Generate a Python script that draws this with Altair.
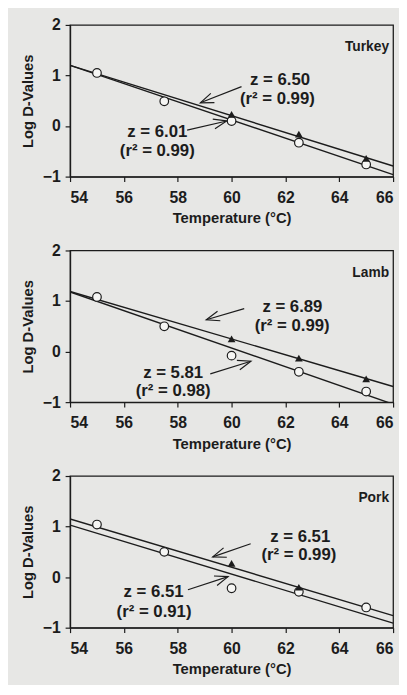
import math
import altair as alt
import pandas as pd

# ---------------- data ----------------
circle_temps = [55, 57.5, 60, 62.5, 65]
line_temps = [54, 66]
x_ticks = [54, 56, 58, 60, 62, 64, 66]
y_ticks = [-1, 0, 1, 2]

turkey_circles = [1.05, 0.49, 0.10, -0.33, -0.76]
turkey_tri_temps = [60, 62.5, 65]
turkey_tris = [0.23, -0.16, -0.64]
turkey_upper = [1.20, -0.79]
turkey_lower = [1.20, -0.96]
turkey_notes = ["z = 6.50", "(r² = 0.99)", "z = 6.01", "(r² = 0.99)"]
turkey_notes_x = [61.8, 61.7, 57.24, 57.24]
turkey_notes_y = [0.91, 0.54, -0.12, -0.50]
turkey_arrow_x0 = [60.37, 58.35]
turkey_arrow_y0 = [0.78, -0.08]
turkey_arrow_x1 = [58.84, 59.82]
turkey_arrow_y1 = [0.46, 0.10]

lamb_circles = [1.08, 0.50, -0.08, -0.40, -0.79]
lamb_tri_temps = [60, 62.5, 65]
lamb_tris = [0.25, -0.13, -0.54]
lamb_upper = [1.19, -0.69]
lamb_lower = [1.18, -1.04]
lamb_notes = ["z = 6.89", "(r² = 0.99)", "z = 5.81", "(r² = 0.98)"]
lamb_notes_x = [62.26, 62.25, 57.83, 57.83]
lamb_notes_y = [0.88, 0.50, -0.42, -0.79]
lamb_arrow_x0 = [60.47, 59.21]
lamb_arrow_y0 = [0.85, -0.44]
lamb_arrow_x1 = [59.06, 60.72]
lamb_arrow_y1 = [0.63, -0.19]

pork_circles = [1.04, 0.50, -0.22, -0.29, -0.60]
pork_tri_temps = [60, 62.5]
pork_tris = [0.27, -0.20]
pork_upper = [1.15, -0.76]
pork_lower = [1.03, -0.91]
pork_notes = ["z = 6.51", "(r² = 0.99)", "z = 6.51", "(r² = 0.91)"]
pork_notes_x = [62.55, 62.5, 57.1, 57.12]
pork_notes_y = [0.80, 0.44, -0.30, -0.69]
pork_arrow_x0 = [60.71, 58.38]
pork_arrow_y0 = [0.66, -0.25]
pork_arrow_x1 = [59.30, 59.87]
pork_arrow_y1 = [0.40, 0.01]

# ---------------- style ----------------
W, H = 328, 154
BG = "#e7e7e5"
INK = "#1c1c1c"
FONT = "Liberation Sans"
ARROW_HEAD = "M -1.6 -0.6 L 0 0 L -1.6 0.6"

XS = alt.Scale(domain=[54, 66], nice=False, zero=False)
YS = alt.Scale(domain=[-1, 2], nice=False, zero=False)


def panel(name, circles, tri_temps, tris, upper, lower, notes, nx, ny,
          ax0, ay0, ax1, ay1):
    xenc = dict(scale=XS, axis=alt.Axis(values=x_ticks, format="d",
                                        title="Temperature (°C)"))
    yenc = dict(scale=YS, axis=alt.Axis(values=y_ticks, format="d",
                                        title="Log D-Values"))

    line_df = pd.DataFrame({
        "t": line_temps * 2,
        "v": upper + lower,
        "s": ["upper"] * 2 + ["lower"] * 2,
    })
    lines = alt.Chart(line_df).mark_line(color=INK, strokeWidth=1.4, clip=True).encode(
        x=alt.X("t:Q", **xenc), y=alt.Y("v:Q", **yenc), detail="s:N")

    ang = []
    for a, b, c, d in zip(ax0, ay0, ax1, ay1):
        dx = (c - a) * W / 12.0
        dy = -(d - b) * H / 3.0
        ang.append(math.degrees(math.atan2(dy, dx)) % 360)
    arr_df = pd.DataFrame({"x0": ax0, "y0": ay0, "x1": ax1, "y1": ay1, "ang": ang})
    shafts = alt.Chart(arr_df).mark_rule(color=INK, strokeWidth=1.2).encode(
        x=alt.X("x0:Q", scale=XS), y=alt.Y("y0:Q", scale=YS), x2="x1:Q", y2="y1:Q")
    heads = alt.Chart(arr_df).mark_point(shape=ARROW_HEAD, filled=False, stroke=INK,
                                         strokeWidth=1.2, size=280, opacity=1).encode(
        x=alt.X("x1:Q", scale=XS), y=alt.Y("y1:Q", scale=YS),
        angle=alt.Angle("ang:Q", scale=None))

    c_df = pd.DataFrame({"t": circle_temps, "v": circles})
    circ = alt.Chart(c_df).mark_point(shape="circle", filled=True, fill="#f6f6f4",
                                      stroke=INK, strokeWidth=1.2, size=76,
                                      opacity=1).encode(
        x=alt.X("t:Q", scale=XS), y=alt.Y("v:Q", scale=YS))
    t_df = pd.DataFrame({"t": tri_temps, "v": tris})
    tri = alt.Chart(t_df).mark_point(shape="triangle-up", filled=True, fill=INK,
                                     size=62, opacity=1).encode(
        x=alt.X("t:Q", scale=XS), y=alt.Y("v:Q", scale=YS))

    n_df = pd.DataFrame({"x": nx, "y": ny, "txt": notes})
    txt = alt.Chart(n_df).mark_text(font=FONT, fontWeight="bold", fontSize=17,
                                    color=INK, align="center",
                                    baseline="middle").encode(
        x=alt.X("x:Q", scale=XS), y=alt.Y("y:Q", scale=YS), text="txt:N")

    lab = alt.Chart(pd.DataFrame({"x": [65.85], "y": [1.56], "txt": [name]})).mark_text(
        font=FONT, fontWeight="bold", fontSize=14, color=INK, align="right",
        baseline="middle").encode(
        x=alt.X("x:Q", scale=XS), y=alt.Y("y:Q", scale=YS), text="txt:N")

    return alt.layer(lines, shafts, heads, circ, tri, txt, lab).properties(
        width=W, height=H)


p1 = panel("Turkey", turkey_circles, turkey_tri_temps, turkey_tris, turkey_upper,
           turkey_lower, turkey_notes, turkey_notes_x, turkey_notes_y,
           turkey_arrow_x0, turkey_arrow_y0, turkey_arrow_x1, turkey_arrow_y1)
p2 = panel("Lamb", lamb_circles, lamb_tri_temps, lamb_tris, lamb_upper,
           lamb_lower, lamb_notes, lamb_notes_x, lamb_notes_y,
           lamb_arrow_x0, lamb_arrow_y0, lamb_arrow_x1, lamb_arrow_y1)
p3 = panel("Pork", pork_circles, pork_tri_temps, pork_tris, pork_upper,
           pork_lower, pork_notes, pork_notes_x, pork_notes_y,
           pork_arrow_x0, pork_arrow_y0, pork_arrow_x1, pork_arrow_y1)

chart = alt.vconcat(p1, p2, p3, spacing=15).properties(
    padding={"left": 12, "top": 3, "right": 4, "bottom": 2},
    background=BG,
).configure_view(
    stroke=INK, strokeWidth=1.3, fill=None
).configure_axis(
    grid=False,
    domainColor=INK, domainWidth=1.3,
    tickColor=INK, tickWidth=1.2, tickSize=5,
    labelFont=FONT, labelFontWeight="bold", labelFontSize=16, labelColor=INK,
    labelPadding=8,
    titleFont=FONT, titleFontWeight="bold", titleFontSize=15, titleColor=INK,
).configure_axisY(
    labelPadding=5, titlePadding=7,
).configure_axisX(
    titlePadding=6,
)

chart.save("out.html", embed_options={"renderer": "svg", "actions": False})
